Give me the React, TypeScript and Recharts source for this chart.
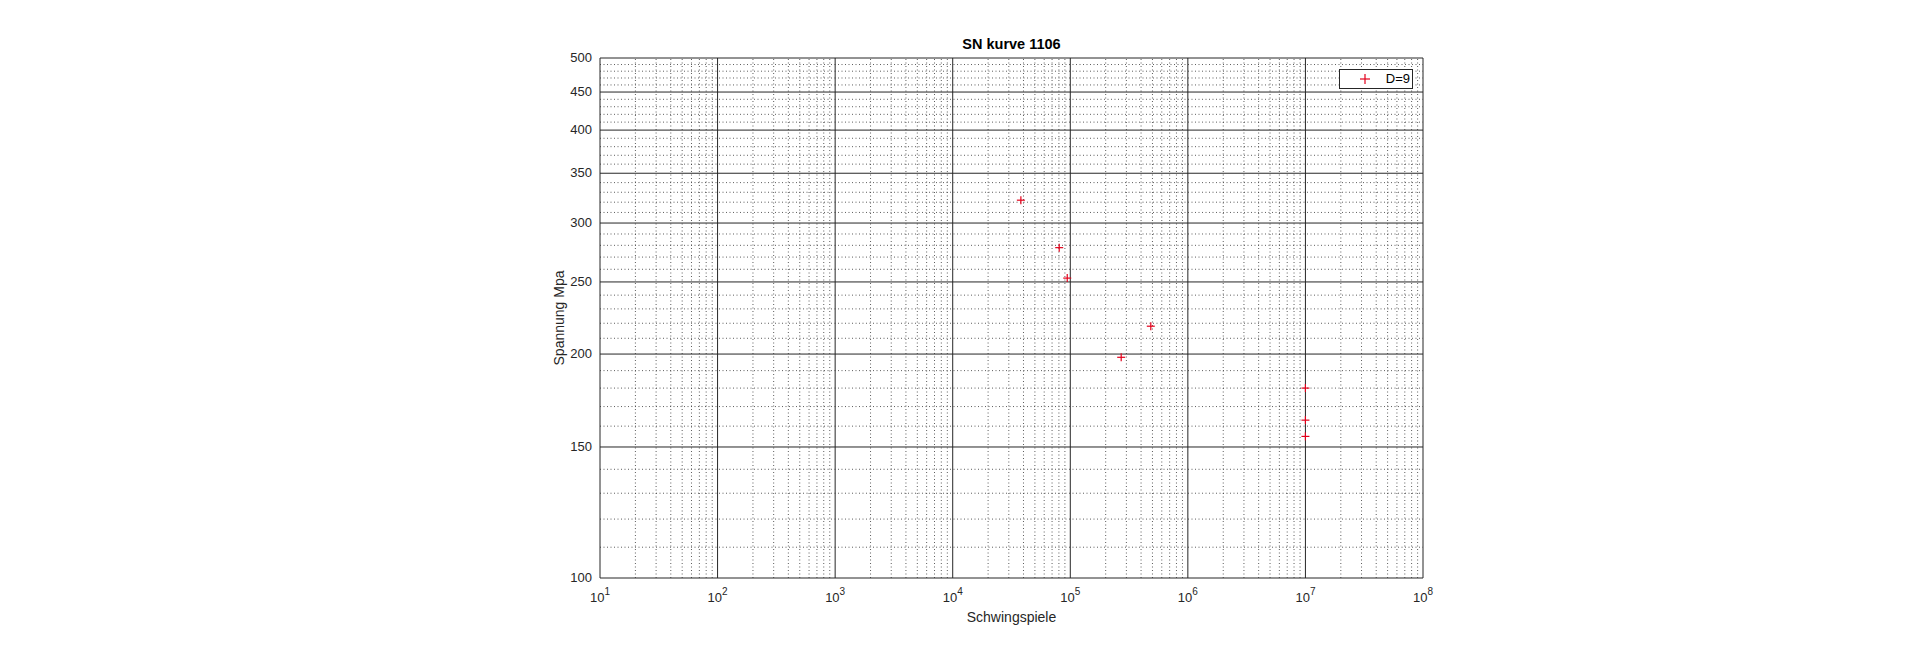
import {
  ScatterChart,
  Scatter,
  XAxis,
  YAxis,
  ReferenceLine,
} from 'recharts'

// Schwingspiele (cycles) and Spannung (stress, MPa)
const cycles = [38000, 80500, 94200, 271000, 484000, 1e7, 1e7, 1e7]
const stress = [322, 278, 253, 198, 218, 180, 163, 155]

const xDecades = [1e1, 1e2, 1e3, 1e4, 1e5, 1e6, 1e7, 1e8]
const minorSteps = [2, 3, 4, 5, 6, 7, 8, 9]
const yTicks = [100, 150, 200, 250, 300, 350, 400, 450, 500]
const yMinorTicks = [
  110, 120, 130, 140, 160, 170, 180, 190, 210, 220, 230, 240, 260, 270, 280, 290,
  310, 320, 330, 340, 360, 370, 380, 390, 410, 420, 430, 440, 460, 470, 480, 490,
]

const seriesName = 'D=9'
const title = 'SN kurve 1106'

const data = cycles.map((n, i) => ({ n, s: stress[i] }))
const xMinorTicks = xDecades.slice(0, -1).flatMap(d => minorSteps.map(m => d * m))

const RED = '#e3001b'
const AXIS = '#262626'
const FONT = 'Arial, "Liberation Sans", Helvetica, sans-serif'

const Plus = (props: any) => {
  const { cx, cy } = props
  if (cx == null || cy == null) return null
  return (
    <g>
      <line x1={cx - 4} x2={cx + 4} y1={cy} y2={cy} stroke={RED} strokeWidth={1.2} />
      <line x1={cx} x2={cx} y1={cy - 4} y2={cy + 4} stroke={RED} strokeWidth={1.2} />
    </g>
  )
}

const XTick = (props: any) => {
  const { x, y, payload } = props
  const exp = Math.round(Math.log10(payload.value))
  return (
    <text x={x} y={y + 16} textAnchor="middle" fill={AXIS} fontSize={13} fontFamily={FONT}>
      <tspan>10</tspan>
      <tspan dy={-7} fontSize={10}>{exp}</tspan>
    </text>
  )
}

const YTick = (props: any) => {
  const { x, y, payload } = props
  return (
    <text x={x} y={y} dy={4} textAnchor="end" fill={AXIS} fontSize={13} fontFamily={FONT}>
      {payload.value}
    </text>
  )
}

const LegendBox = () => (
  <div
    style={{
      position: 'absolute',
      left: 1339,
      top: 69,
      width: 72,
      height: 18,
      border: `1px solid ${AXIS}`,
      background: '#fff',
      fontFamily: FONT,
      fontSize: 13,
      color: '#000',
    }}
  >
    <svg width={20} height={18} style={{ position: 'absolute', left: 15, top: 0 }}>
      <line x1={5} x2={15} y1={9} y2={9} stroke={RED} strokeWidth={1.2} />
      <line x1={10} x2={10} y1={4} y2={14} stroke={RED} strokeWidth={1.2} />
    </svg>
    <span style={{ position: 'absolute', right: 2, top: 1 }}>{seriesName}</span>
  </div>
)

export default function App() {
  return (
    <div style={{ position: 'absolute', left: 0, top: 0, width: 1920, height: 648, background: '#fff' }}>
      <div
        style={{
          position: 'absolute',
          left: 600,
          width: 823,
          top: 36,
          textAlign: 'center',
          fontFamily: FONT,
          fontWeight: 'bold',
          fontSize: 14.5,
          color: '#000',
        }}
      >
        {title}
      </div>
      <ScatterChart width={1920} height={648} margin={{ top: 58, right: 497, bottom: 0, left: 540 }}>
        <XAxis
          type="number"
          dataKey="n"
          scale="log"
          domain={[10, 1e8]}
          ticks={xDecades}
          allowDataOverflow
          height={70}
          axisLine={false}
          tickLine={false}
          tick={<XTick />}
          label={{
            value: 'Schwingspiele',
            position: 'insideBottom',
            offset: 26,
            fill: AXIS,
            fontSize: 14,
            fontFamily: FONT,
          }}
        />
        <YAxis
          type="number"
          dataKey="s"
          scale="log"
          domain={[100, 500]}
          ticks={yTicks}
          allowDataOverflow
          width={60}
          axisLine={false}
          tickLine={false}
          tick={<YTick />}
          label={{
            value: 'Spannung Mpa',
            angle: -90,
            position: 'insideLeft',
            offset: 19,
            style: { textAnchor: 'middle' },
            fill: AXIS,
            fontSize: 14,
            fontFamily: FONT,
          }}
        />
        {xMinorTicks.map(v => (
          <ReferenceLine key={'xm' + v} x={v} stroke="#333" strokeDasharray="1 2.5" strokeWidth={0.8} />
        ))}
        {yMinorTicks.map(v => (
          <ReferenceLine key={'ym' + v} y={v} stroke="#333" strokeDasharray="1 2.5" strokeWidth={0.8} />
        ))}
        {xDecades.map(v => (
          <ReferenceLine key={'xM' + v} x={v} stroke={AXIS} strokeWidth={1} />
        ))}
        {yTicks.map(v => (
          <ReferenceLine key={'yM' + v} y={v} stroke={AXIS} strokeWidth={1} />
        ))}
        <Scatter name={seriesName} data={data} shape={<Plus />} isAnimationActive={false} />
      </ScatterChart>
      <LegendBox />
    </div>
  )
}
